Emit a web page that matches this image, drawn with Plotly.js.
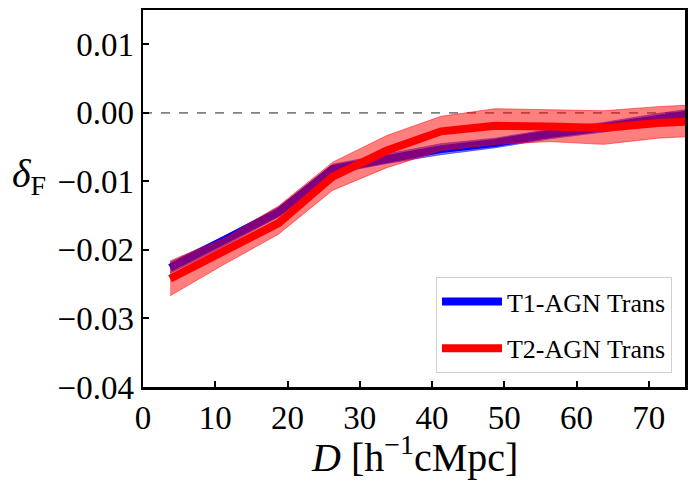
<!DOCTYPE html>
<html>
<head>
<meta charset="utf-8">
<script src="https://cdn.plot.ly/plotly-3.0.1.min.js"></script>
<style>html,body{margin:0;padding:0;background:#fff;}#chart{width:695px;height:489px;}</style>
</head>
<body>
<div id="chart"></div>
<script>
const distance = [3.75, 11.25, 18.75, 26.25, 33.75, 41.25, 48.75, 56.25, 63.75, 71.25, 78.75];
const t1Mean  = [-0.0226, -0.0187, -0.0145, -0.0082, -0.0067, -0.0053, -0.0044, -0.0031, -0.0021, -0.0008, 0.0003];
const t1Lower = [-0.0234, -0.0194, -0.0152, -0.0089, -0.0074, -0.0061, -0.0051, -0.0038, -0.0028, -0.0015, -0.0004];
const t1Upper = [-0.0218, -0.0180, -0.0138, -0.0075, -0.0060, -0.0045, -0.0037, -0.0024, -0.0014, -0.0001, 0.0010];
const t2Mean  = [-0.0242, -0.0201, -0.0161, -0.0093, -0.0055, -0.0027, -0.0019, -0.0020, -0.0022, -0.0015, -0.0011];
const t2Lower = [-0.0267, -0.0221, -0.0177, -0.0113, -0.0080, -0.0055, -0.0046, -0.0042, -0.0046, -0.0037, -0.0033];
const t2Upper = [-0.0216, -0.0183, -0.0136, -0.0072, -0.0033, -0.0005, 0.0006, 0.0004, 0.0003, 0.0009, 0.0013];
const seriesNames = ["T1-AGN Trans", "T2-AGN Trans"];
const xTicks = [0, 10, 20, 30, 40, 50, 60, 70];
const yTicks = [-0.04, -0.03, -0.02, -0.01, 0.00, 0.01];
const yTickText = ["\u22120.04", "\u22120.03", "\u22120.02", "\u22120.01", "0.00", "0.01"];

const font = "'Liberation Serif', 'DejaVu Serif', serif";
const traces = [
  {x: distance, y: t1Lower, mode: "lines", legendgroup: "a", line: {width: 1, color: "rgba(0,0,255,0.5)"}, showlegend: false, hoverinfo: "skip"},
  {x: distance, y: t1Upper, mode: "lines", legendgroup: "a", fill: "tonexty", fillcolor: "rgba(0,0,255,0.5)", line: {width: 1, color: "rgba(0,0,255,0.5)"}, showlegend: false, hoverinfo: "skip"},
  {x: distance, y: t1Mean, mode: "lines", legendgroup: "a", name: seriesNames[0], line: {width: 8, color: "#0000ff"}},
  {x: distance, y: t2Lower, mode: "lines", legendgroup: "b", line: {width: 1, color: "rgba(255,0,0,0.5)"}, showlegend: false, hoverinfo: "skip"},
  {x: distance, y: t2Upper, mode: "lines", legendgroup: "b", fill: "tonexty", fillcolor: "rgba(255,0,0,0.5)", line: {width: 1, color: "rgba(255,0,0,0.5)"}, showlegend: false, hoverinfo: "skip"},
  {x: distance, y: t2Mean, mode: "lines", legendgroup: "b", name: seriesNames[1], line: {width: 8, color: "#ff0000"}}
];

const layout = {
  width: 695, height: 489,
  margin: {l: 143, r: 10, t: 10, b: 102},
  paper_bgcolor: "#fff", plot_bgcolor: "#fff",
  font: {family: font, color: "#000"},
  xaxis: {
    range: [0, 75], tickvals: xTicks, ticks: "inside", ticklen: 6, tickwidth: 2, tickcolor: "#000",
    showline: true, linewidth: 2.5, linecolor: "#000", mirror: true, showgrid: false, zeroline: false,
    tickfont: {family: font, size: 33}
  },
  yaxis: {
    range: [-0.04, 0.015], tickvals: yTicks, ticktext: yTickText, ticks: "inside", ticklen: 6, tickwidth: 2, tickcolor: "#000",
    showline: true, linewidth: 2.5, linecolor: "#000", mirror: true, showgrid: false, zeroline: false,
    tickfont: {family: font, size: 33}
  },
  shapes: [{type: "line", xref: "paper", x0: 0, x1: 1, yref: "y", y0: 0, y1: 0, line: {color: "gray", width: 1.8, dash: "dash"}, layer: "below"}],
  annotations: [
    {xref: "paper", yref: "paper", x: -0.21, y: 0.56, xanchor: "center", yanchor: "middle", showarrow: false,
     text: "<i>\u03b4</i><sub>F</sub>", font: {family: font, size: 40}},
    {xref: "paper", yref: "paper", x: 0.5, y: -0.18, xanchor: "center", yanchor: "middle", showarrow: false,
     text: "<i>D</i> [h<sup>\u22121</sup>cMpc]", font: {family: font, size: 40}}
  ],
  legend: {
    x: 0.976, y: 0.037, xanchor: "right", yanchor: "bottom", traceorder: "grouped",
    bgcolor: "rgba(255,255,255,0.8)", bordercolor: "#d0d0d0", borderwidth: 1,
    font: {family: font, size: 26}, itemwidth: 60, tracegroupgap: 10
  }
};

Plotly.newPlot("chart", traces, layout, {displayModeBar: false, staticPlot: true});
</script>
</body>
</html>
